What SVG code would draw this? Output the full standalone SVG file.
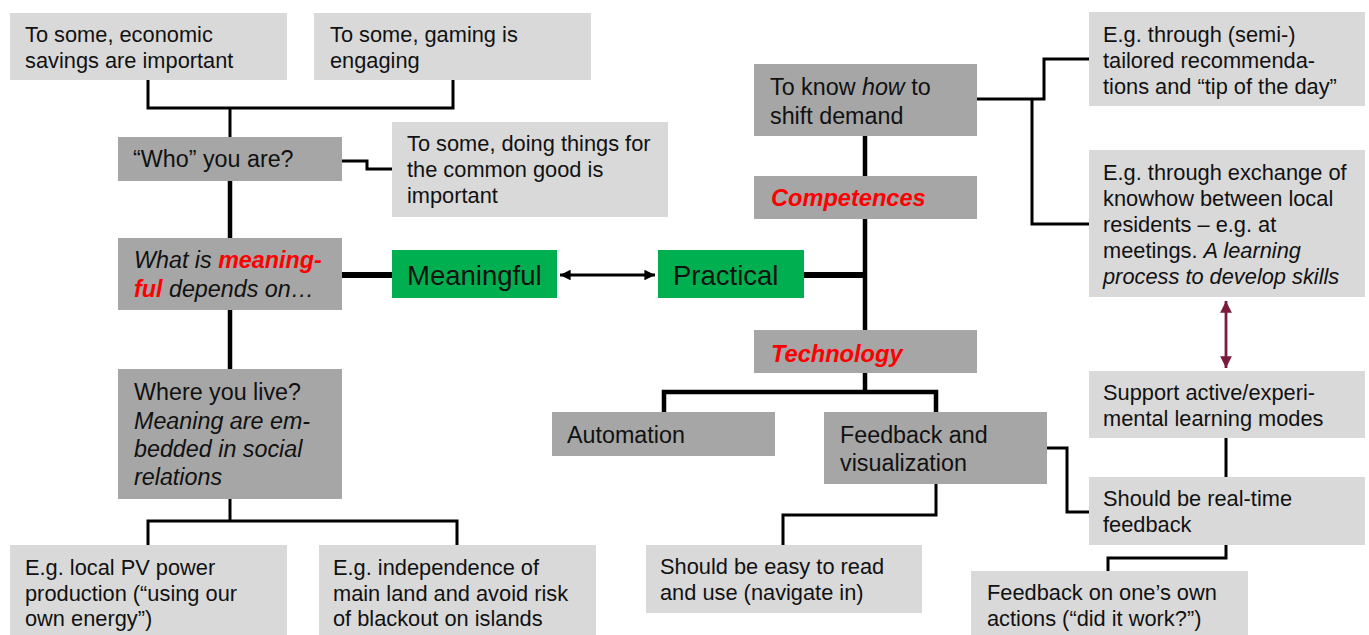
<svg xmlns="http://www.w3.org/2000/svg" width="1369" height="635" viewBox="0 0 1369 635">
<defs>
<style>
.lt{fill:#d9d9d9}
.dk{fill:#a6a6a6}
.gr{fill:#00b050}
text{font-family:"Liberation Sans",Arial,sans-serif;fill:#111}
.s{font-size:21.8px}
.m{font-size:23.3px}
.g{font-size:27.5px}
.i{font-style:italic}
.r{fill:#ff0000;font-weight:bold;font-style:italic}
.rb{font-size:23.6px}
.c{fill:none;stroke:#000;stroke-linejoin:miter}
.t1{stroke-width:2.4}
.t2{stroke-width:3}
.t3{stroke-width:4.5}
.t4{stroke-width:6}
</style>
<marker id="ab" viewBox="0 0 10 10" refX="10" refY="5" markerWidth="3.8" markerHeight="3.8" orient="auto-start-reverse" markerUnits="strokeWidth">
<path d="M0,0 L10,5 L0,10 Z" fill="#000"/>
</marker>
<marker id="am" viewBox="0 0 10 10" refX="10" refY="5" markerWidth="4.2" markerHeight="4.2" orient="auto-start-reverse" markerUnits="strokeWidth">
<path d="M0,0 L10,5 L0,10 Z" fill="#7a1b3a"/>
</marker>
</defs>
<rect width="1369" height="635" fill="#fff"/>

<g id="connectors">
<path class="c t2" d="M148,80 V108 H453 V80"/>
<path class="c t2" d="M230,108 V137"/>
<path class="c t2" d="M342,161 H367 V169 H392"/>
<path class="c t3" d="M230,181 V238"/>
<path class="c t4" d="M342,275 H392"/>
<path class="c t3" d="M230,310 V369"/>
<path class="c t2" d="M230,499 V521"/>
<path class="c t2" d="M148,545 V521 H457 V545"/>
<line x1="560" y1="275" x2="655" y2="275" stroke="#000" stroke-width="2.8" marker-start="url(#ab)" marker-end="url(#ab)"/>
<path class="c t4" d="M804,275 H865"/>
<path class="c t3" d="M865,136 V176"/>
<path class="c t3" d="M865,219 V330"/>
<path class="c t2" d="M977,99 H1044 V59 H1089"/>
<path class="c t2" d="M1032,99 V224 H1089"/>
<line x1="1226" y1="301" x2="1226" y2="368" stroke="#7a1b3a" stroke-width="2.8" marker-start="url(#am)" marker-end="url(#am)"/>
<path class="c t3" d="M865,373 V392"/>
<path class="c t3" d="M664,412 V392 H936 V412"/>
<path class="c t2" d="M936,484 V515 H783 V545"/>
<path class="c t2" d="M1047,448 H1067 V512 H1089"/>
<path class="c t2" d="M1226,438 V477"/>
<path class="c t2" d="M1226,545 V558 H1108 V571"/>
</g>

<g id="n-economic">
<rect class="lt" x="10" y="13" width="277" height="67"/>
<text class="s" x="25" y="41.5">To some, economic</text>
<text class="s" x="25" y="67.5">savings are important</text>
</g>
<g id="n-gaming">
<rect class="lt" x="314" y="13" width="277" height="67"/>
<text class="s" x="330" y="41.5">To some, gaming is</text>
<text class="s" x="330" y="67.5">engaging</text>
</g>
<g id="n-who">
<rect class="dk" x="118" y="137" width="224" height="44"/>
<text class="m" x="133" y="167">“Who” you are?</text>
</g>
<g id="n-common">
<rect class="lt" x="392" y="122" width="276" height="95"/>
<text class="s" x="407" y="151">To some, doing things for</text>
<text class="s" x="407" y="177">the common good is</text>
<text class="s" x="407" y="203">important</text>
</g>
<g id="n-what">
<rect class="dk" x="118" y="238" width="224" height="72"/>
<text class="m" x="134" y="268"><tspan class="i">What is </tspan><tspan class="r">meaning-</tspan></text>
<text class="m" x="134" y="297"><tspan class="r">ful</tspan><tspan class="i"> depends on…</tspan></text>
</g>
<g id="n-meaningful">
<rect class="gr" x="392" y="250" width="165" height="48"/>
<text class="g" x="407" y="285">Meaningful</text>
</g>
<g id="n-practical">
<rect class="gr" x="658" y="250" width="146" height="48"/>
<text class="g" x="673" y="285">Practical</text>
</g>
<g id="n-where">
<rect class="dk" x="118" y="369" width="224" height="130"/>
<text class="m" x="134" y="400">Where you live?</text>
<text class="m i" x="134" y="428.5">Meaning are em-</text>
<text class="m i" x="134" y="456.5">bedded in social</text>
<text class="m i" x="134" y="484.5">relations</text>
</g>
<g id="n-pv">
<rect class="lt" x="10" y="545" width="277" height="90"/>
<text class="s" x="25" y="575">E.g. local PV power</text>
<text class="s" x="25" y="600.5">production (“using our</text>
<text class="s" x="25" y="626">own energy”)</text>
</g>
<g id="n-independence">
<rect class="lt" x="319" y="545" width="277" height="90"/>
<text class="s" x="333" y="575">E.g. independence of</text>
<text class="s" x="333" y="600.5">main land and avoid risk</text>
<text class="s" x="333" y="626">of blackout on islands</text>
</g>
<g id="n-knowhow">
<rect class="dk" x="754" y="64" width="223" height="72"/>
<text class="m" x="770" y="95">To know <tspan class="i">how</tspan> to</text>
<text class="m" x="770" y="124">shift demand</text>
</g>
<g id="n-competences">
<rect class="dk" x="754" y="176" width="223" height="43"/>
<text class="rb r" x="771" y="205.5">Competences</text>
</g>
<g id="n-technology">
<rect class="dk" x="754" y="330" width="223" height="43"/>
<text class="rb r" x="771" y="361.5">Technology</text>
</g>
<g id="n-tailored">
<rect class="lt" x="1089" y="12" width="276" height="94"/>
<text class="s" x="1103" y="41.5">E.g. through (semi-)</text>
<text class="s" x="1103" y="67.5">tailored recommenda-</text>
<text class="s" x="1103" y="93.5">tions and “tip of the day”</text>
</g>
<g id="n-exchange">
<rect class="lt" x="1089" y="150" width="276" height="147"/>
<text class="s" x="1103" y="180">E.g. through exchange of</text>
<text class="s" x="1103" y="206">knowhow between local</text>
<text class="s" x="1103" y="232">residents – e.g. at</text>
<text class="s" x="1103" y="258">meetings. <tspan class="i">A learning</tspan></text>
<text class="s i" x="1103" y="284">process to develop skills</text>
</g>
<g id="n-support">
<rect class="lt" x="1089" y="371" width="276" height="67"/>
<text class="s" x="1103" y="400">Support active/experi-</text>
<text class="s" x="1103" y="426">mental learning modes</text>
</g>
<g id="n-automation">
<rect class="dk" x="552" y="412" width="223" height="44"/>
<text class="m" x="567" y="443">Automation</text>
</g>
<g id="n-feedback">
<rect class="dk" x="824" y="412" width="223" height="72"/>
<text class="m" x="840" y="443">Feedback and</text>
<text class="m" x="840" y="471">visualization</text>
</g>
<g id="n-realtime">
<rect class="lt" x="1089" y="477" width="276" height="68"/>
<text class="s" x="1103" y="506">Should be real-time</text>
<text class="s" x="1103" y="532">feedback</text>
</g>
<g id="n-easy">
<rect class="lt" x="646" y="545" width="276" height="68"/>
<text class="s" x="660" y="574">Should be easy to read</text>
<text class="s" x="660" y="600">and use (navigate in)</text>
</g>
<g id="n-own">
<rect class="lt" x="971" y="571" width="277" height="64"/>
<text class="s" x="987" y="600">Feedback on one’s own</text>
<text class="s" x="987" y="626">actions (“did it work?”)</text>
</g>
</svg>
